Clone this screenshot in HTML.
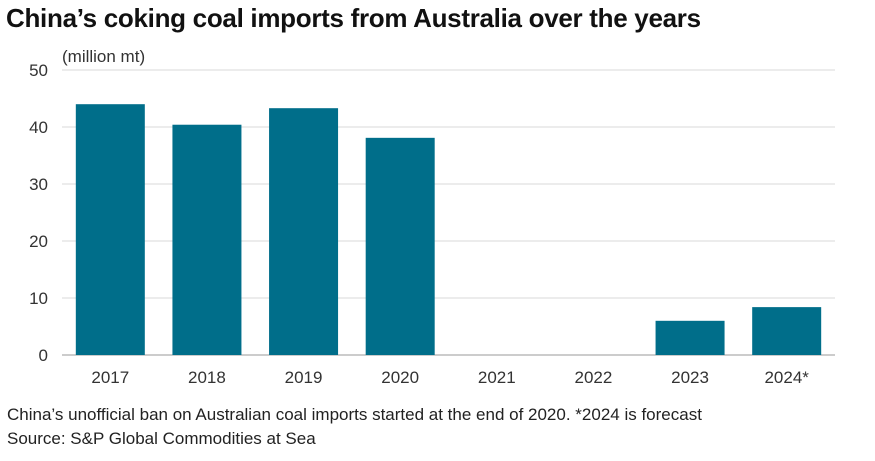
<!DOCTYPE html>
<html><head><meta charset="utf-8"><style>
body{margin:0;background:#fff;width:875px;height:461px;overflow:hidden;font-family:"Liberation Sans",sans-serif;}
#title{position:absolute;left:6px;top:3px;font-size:26px;font-weight:bold;color:#111;letter-spacing:-0.3px;white-space:nowrap}
.note{position:absolute;left:7px;font-size:17px;color:#222;white-space:nowrap}
svg{position:absolute;left:0;top:0}
</style></head><body>
<div id="title">China’s coking coal imports from Australia over the years</div>
<svg id="chart" width="875" height="400"></svg>
<div class="note" style="top:405px">China’s unofficial ban on Australian coal imports started at the end of 2020. *2024 is forecast</div>
<div class="note" style="top:429px">Source: S&amp;P Global Commodities at Sea</div>
<script>
const categories=["2017","2018","2019","2020","2021","2022","2023","2024*"];
const values=[44.0,40.4,43.3,38.1,0,0,6.0,8.4];
const yTicks=[0,10,20,30,40,50];
const NS="http://www.w3.org/2000/svg";
const svg=document.getElementById("chart");
const x0=62,x1=835,yBase=355,yTop=70,yMax=50;
const step=(x1-x0)/categories.length,bw=69;
const y=v=>yBase-(v/yMax)*(yBase-yTop);
const xc=i=>x0+step*(i+0.5);
function mk(t,a){const e=document.createElementNS(NS,t);for(const k in a)e.setAttribute(k,a[k]);svg.appendChild(e);return e;}
yTicks.forEach(t=>{
 const l=mk("line",{x1:x0,x2:x1,y1:y(t),y2:y(t),stroke:t===0?"#999":"#d9d9d9","stroke-width":1});
 
 
 const tx=mk("text",{x:48,y:y(t)+6,"text-anchor":"end","font-size":17,fill:"#333","font-family":"Liberation Sans, sans-serif"});
 tx.textContent=t;
 
 
});
const u=mk("text",{x:62,y:62,"font-size":17,fill:"#333","font-family":"Liberation Sans, sans-serif"});
u.textContent="(million mt)";


categories.forEach((c,i)=>{
 if(values[i]>0){
  const r=mk("rect",{x:xc(i)-bw/2,y:y(values[i]),width:bw,height:yBase-y(values[i]),fill:"#006e8a"});
  
  
 }
 const t=mk("text",{x:xc(i),y:383,"text-anchor":"middle","font-size":17,fill:"#333","font-family":"Liberation Sans, sans-serif"});
 t.textContent=c;
 
 
});
</script>
</body></html>
